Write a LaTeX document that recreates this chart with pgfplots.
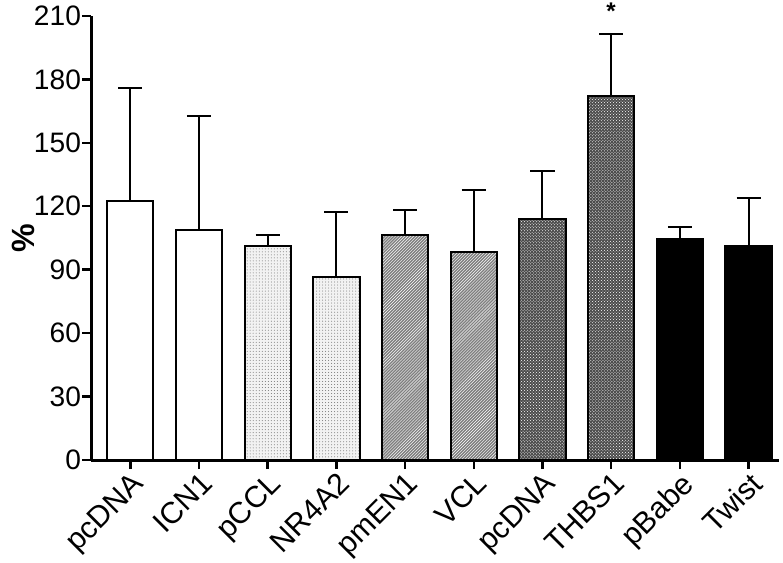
\documentclass[border={9pt 0pt 2pt 0pt}]{standalone}
\usepackage{pgfplots}
\pgfplotsset{compat=1.18}
\usepackage{fontspec}
\setmainfont{Liberation Sans}
\usetikzlibrary{patterns}

\begin{document}
\begin{tikzpicture}
\begin{axis}[
    scale only axis,
    width=685pt, height=442pt,
    ymin=0, ymax=210,
    xmin=-0.57, xmax=9.45,
    ytick={0,30,...,210},
    xtick={0,...,9},
    xticklabels={pcDNA,ICN1,pCCL,NR4A2,pmEN1,VCL,pcDNA,THBS1,pBabe,Twist},
    xticklabel style={rotate=45, anchor=north east, font=\fontsize{30}{30}\selectfont, inner sep=1pt},
    yticklabel style={font=\fontsize{28}{28}\selectfont, inner sep=1pt},
    /pgf/number format/assume math mode=true,
    axis x line*=bottom, axis y line*=left,
    axis line style={line width=3pt},
    tick style={line width=2.5pt, black},
    major tick length=9pt,
    tick align=outside,
    ylabel={\textbf{\%}},
    every axis y label/.style={at={(axis description cs:-0.098,0.5)}, rotate=90, anchor=center},
    ylabel style={font=\fontsize{32}{32}\selectfont},
    ybar, bar width=46pt,
    every axis plot/.append style={bar shift=0pt, draw=black, line width=2pt,
        error bars/y dir=plus, error bars/y explicit,
        error bars/error bar style={line width=2pt, black},
        error bars/error mark options={rotate=90, mark size=12pt, line width=2pt, black}},
    clip=false,
]
\addplot[fill=white] coordinates {(0,122.4) +- (0,53.3) (1,108.9) +- (0,53.8)};
\addplot[fill=gray!10, postaction={pattern=dots, pattern color=black!55}] coordinates {(2,101.1) +- (0,5.5) (3,86.3) +- (0,31.2)};
\addplot[fill=black!50, postaction={pattern=north east lines, pattern color=white}] coordinates {(4,106.2) +- (0,12.1) (5,98.2) +- (0,29.3)};
\addplot[fill=black!70, postaction={pattern=crosshatch dots, pattern color=white}] coordinates {(6,114.1) +- (0,22.5) (7,172.2) +- (0,29.1)};
\addplot[fill=black] coordinates {(8,104.3) +- (0,6.1) (9,101) +- (0,23)};
\node[font=\fontsize{24}{24}\selectfont\bfseries] at (axis cs:7,212) {*};
\end{axis}
\end{tikzpicture}
\end{document}
